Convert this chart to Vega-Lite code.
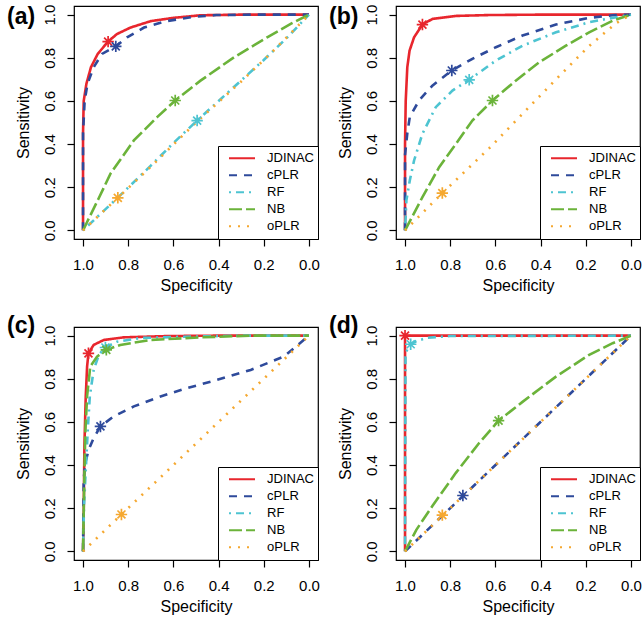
{
  "$schema": "https://vega.github.io/schema/vega-lite/v6.json",
  "padding": {"left": 6, "top": 3, "right": 0, "bottom": 0},
  "columns": 2,
  "spacing": {"row": 20, "column": 8},
  "datasets": {
    "curves": [
      {"panel":"a","method":"JDINAC","i":0,"spec":1,"sens":0},
      {"panel":"a","method":"JDINAC","i":1,"spec":1,"sens":0.45},
      {"panel":"a","method":"JDINAC","i":2,"spec":0.997,"sens":0.6},
      {"panel":"a","method":"JDINAC","i":3,"spec":0.985,"sens":0.68},
      {"panel":"a","method":"JDINAC","i":4,"spec":0.965,"sens":0.756},
      {"panel":"a","method":"JDINAC","i":5,"spec":0.935,"sens":0.818},
      {"panel":"a","method":"JDINAC","i":6,"spec":0.889,"sens":0.875},
      {"panel":"a","method":"JDINAC","i":7,"spec":0.85,"sens":0.91},
      {"panel":"a","method":"JDINAC","i":8,"spec":0.79,"sens":0.94},
      {"panel":"a","method":"JDINAC","i":9,"spec":0.7,"sens":0.97},
      {"panel":"a","method":"JDINAC","i":10,"spec":0.6,"sens":0.985},
      {"panel":"a","method":"JDINAC","i":11,"spec":0.48,"sens":0.997},
      {"panel":"a","method":"JDINAC","i":12,"spec":0.3,"sens":1},
      {"panel":"a","method":"JDINAC","i":13,"spec":0,"sens":1},
      {"panel":"a","method":"cPLR","i":0,"spec":1,"sens":0},
      {"panel":"a","method":"cPLR","i":1,"spec":1,"sens":0.45},
      {"panel":"a","method":"cPLR","i":2,"spec":0.993,"sens":0.6},
      {"panel":"a","method":"cPLR","i":3,"spec":0.98,"sens":0.68},
      {"panel":"a","method":"cPLR","i":4,"spec":0.953,"sens":0.756},
      {"panel":"a","method":"cPLR","i":5,"spec":0.916,"sens":0.818},
      {"panel":"a","method":"cPLR","i":6,"spec":0.855,"sens":0.853},
      {"panel":"a","method":"cPLR","i":7,"spec":0.805,"sens":0.895},
      {"panel":"a","method":"cPLR","i":8,"spec":0.73,"sens":0.94},
      {"panel":"a","method":"cPLR","i":9,"spec":0.63,"sens":0.97},
      {"panel":"a","method":"cPLR","i":10,"spec":0.51,"sens":0.99},
      {"panel":"a","method":"cPLR","i":11,"spec":0.41,"sens":0.998},
      {"panel":"a","method":"cPLR","i":12,"spec":0.25,"sens":1},
      {"panel":"a","method":"cPLR","i":13,"spec":0,"sens":1},
      {"panel":"a","method":"RF","i":0,"spec":1,"sens":0},
      {"panel":"a","method":"RF","i":1,"spec":0.85,"sens":0.148},
      {"panel":"a","method":"RF","i":2,"spec":0.7,"sens":0.3},
      {"panel":"a","method":"RF","i":3,"spec":0.6,"sens":0.405},
      {"panel":"a","method":"RF","i":4,"spec":0.495,"sens":0.509},
      {"panel":"a","method":"RF","i":5,"spec":0.4,"sens":0.6},
      {"panel":"a","method":"RF","i":6,"spec":0.3,"sens":0.695},
      {"panel":"a","method":"RF","i":7,"spec":0.2,"sens":0.79},
      {"panel":"a","method":"RF","i":8,"spec":0.1,"sens":0.89},
      {"panel":"a","method":"RF","i":9,"spec":0,"sens":1},
      {"panel":"a","method":"NB","i":0,"spec":1,"sens":0},
      {"panel":"a","method":"NB","i":1,"spec":0.982,"sens":0.039},
      {"panel":"a","method":"NB","i":2,"spec":0.93,"sens":0.15},
      {"panel":"a","method":"NB","i":3,"spec":0.879,"sens":0.262},
      {"panel":"a","method":"NB","i":4,"spec":0.775,"sens":0.417},
      {"panel":"a","method":"NB","i":5,"spec":0.672,"sens":0.525},
      {"panel":"a","method":"NB","i":6,"spec":0.592,"sens":0.602},
      {"panel":"a","method":"NB","i":7,"spec":0.48,"sens":0.694},
      {"panel":"a","method":"NB","i":8,"spec":0.332,"sens":0.802},
      {"panel":"a","method":"NB","i":9,"spec":0.185,"sens":0.895},
      {"panel":"a","method":"NB","i":10,"spec":0.081,"sens":0.957},
      {"panel":"a","method":"NB","i":11,"spec":0,"sens":1},
      {"panel":"a","method":"oPLR","i":0,"spec":1,"sens":0},
      {"panel":"a","method":"oPLR","i":1,"spec":0.846,"sens":0.151},
      {"panel":"a","method":"oPLR","i":2,"spec":0.7,"sens":0.295},
      {"panel":"a","method":"oPLR","i":3,"spec":0.5,"sens":0.5},
      {"panel":"a","method":"oPLR","i":4,"spec":0.3,"sens":0.69},
      {"panel":"a","method":"oPLR","i":5,"spec":0.15,"sens":0.84},
      {"panel":"a","method":"oPLR","i":6,"spec":0,"sens":1},

      {"panel":"b","method":"JDINAC","i":0,"spec":1,"sens":0},
      {"panel":"b","method":"JDINAC","i":1,"spec":1,"sens":0.4},
      {"panel":"b","method":"JDINAC","i":2,"spec":0.997,"sens":0.6},
      {"panel":"b","method":"JDINAC","i":3,"spec":0.99,"sens":0.756},
      {"panel":"b","method":"JDINAC","i":4,"spec":0.98,"sens":0.833},
      {"panel":"b","method":"JDINAC","i":5,"spec":0.96,"sens":0.895},
      {"panel":"b","method":"JDINAC","i":6,"spec":0.923,"sens":0.954},
      {"panel":"b","method":"JDINAC","i":7,"spec":0.879,"sens":0.98},
      {"panel":"b","method":"JDINAC","i":8,"spec":0.775,"sens":0.994},
      {"panel":"b","method":"JDINAC","i":9,"spec":0.63,"sens":0.998},
      {"panel":"b","method":"JDINAC","i":10,"spec":0.4,"sens":1},
      {"panel":"b","method":"JDINAC","i":11,"spec":0,"sens":1},
      {"panel":"b","method":"cPLR","i":0,"spec":1,"sens":0},
      {"panel":"b","method":"cPLR","i":1,"spec":1,"sens":0.35},
      {"panel":"b","method":"cPLR","i":2,"spec":0.99,"sens":0.45},
      {"panel":"b","method":"cPLR","i":3,"spec":0.979,"sens":0.525},
      {"panel":"b","method":"cPLR","i":4,"spec":0.938,"sens":0.602},
      {"panel":"b","method":"cPLR","i":5,"spec":0.879,"sens":0.671},
      {"panel":"b","method":"cPLR","i":6,"spec":0.793,"sens":0.741},
      {"panel":"b","method":"cPLR","i":7,"spec":0.702,"sens":0.795},
      {"panel":"b","method":"cPLR","i":8,"spec":0.598,"sens":0.849},
      {"panel":"b","method":"cPLR","i":9,"spec":0.48,"sens":0.903},
      {"panel":"b","method":"cPLR","i":10,"spec":0.332,"sens":0.954},
      {"panel":"b","method":"cPLR","i":11,"spec":0.185,"sens":0.985},
      {"panel":"b","method":"cPLR","i":12,"spec":0.081,"sens":0.997},
      {"panel":"b","method":"cPLR","i":13,"spec":0,"sens":1},
      {"panel":"b","method":"RF","i":0,"spec":1,"sens":0},
      {"panel":"b","method":"RF","i":1,"spec":0.994,"sens":0.139},
      {"panel":"b","method":"RF","i":2,"spec":0.979,"sens":0.231},
      {"panel":"b","method":"RF","i":3,"spec":0.96,"sens":0.324},
      {"panel":"b","method":"RF","i":4,"spec":0.923,"sens":0.448},
      {"panel":"b","method":"RF","i":5,"spec":0.864,"sens":0.571},
      {"panel":"b","method":"RF","i":6,"spec":0.79,"sens":0.648},
      {"panel":"b","method":"RF","i":7,"spec":0.716,"sens":0.698},
      {"panel":"b","method":"RF","i":8,"spec":0.598,"sens":0.787},
      {"panel":"b","method":"RF","i":9,"spec":0.48,"sens":0.856},
      {"panel":"b","method":"RF","i":10,"spec":0.332,"sens":0.918},
      {"panel":"b","method":"RF","i":11,"spec":0.185,"sens":0.965},
      {"panel":"b","method":"RF","i":12,"spec":0.066,"sens":0.988},
      {"panel":"b","method":"RF","i":13,"spec":0,"sens":1},
      {"panel":"b","method":"NB","i":0,"spec":1,"sens":0},
      {"panel":"b","method":"NB","i":1,"spec":0.923,"sens":0.154},
      {"panel":"b","method":"NB","i":2,"spec":0.849,"sens":0.293},
      {"panel":"b","method":"NB","i":3,"spec":0.775,"sens":0.401},
      {"panel":"b","method":"NB","i":4,"spec":0.702,"sens":0.509},
      {"panel":"b","method":"NB","i":5,"spec":0.613,"sens":0.602},
      {"panel":"b","method":"NB","i":6,"spec":0.51,"sens":0.694},
      {"panel":"b","method":"NB","i":7,"spec":0.406,"sens":0.779},
      {"panel":"b","method":"NB","i":8,"spec":0.288,"sens":0.856},
      {"panel":"b","method":"NB","i":9,"spec":0.185,"sens":0.918},
      {"panel":"b","method":"NB","i":10,"spec":0.081,"sens":0.972},
      {"panel":"b","method":"NB","i":11,"spec":0,"sens":1},
      {"panel":"b","method":"oPLR","i":0,"spec":1,"sens":0},
      {"panel":"b","method":"oPLR","i":1,"spec":0.835,"sens":0.173},
      {"panel":"b","method":"oPLR","i":2,"spec":0.628,"sens":0.38},
      {"panel":"b","method":"oPLR","i":3,"spec":0.48,"sens":0.54},
      {"panel":"b","method":"oPLR","i":4,"spec":0.332,"sens":0.7},
      {"panel":"b","method":"oPLR","i":5,"spec":0.185,"sens":0.855},
      {"panel":"b","method":"oPLR","i":6,"spec":0.066,"sens":0.96},
      {"panel":"b","method":"oPLR","i":7,"spec":0,"sens":1},

      {"panel":"c","method":"JDINAC","i":0,"spec":1,"sens":0},
      {"panel":"c","method":"JDINAC","i":1,"spec":0.997,"sens":0.179},
      {"panel":"c","method":"JDINAC","i":2,"spec":0.994,"sens":0.487},
      {"panel":"c","method":"JDINAC","i":3,"spec":0.988,"sens":0.718},
      {"panel":"c","method":"JDINAC","i":4,"spec":0.982,"sens":0.857},
      {"panel":"c","method":"JDINAC","i":5,"spec":0.976,"sens":0.918},
      {"panel":"c","method":"JDINAC","i":6,"spec":0.953,"sens":0.957},
      {"panel":"c","method":"JDINAC","i":7,"spec":0.908,"sens":0.98},
      {"panel":"c","method":"JDINAC","i":8,"spec":0.82,"sens":0.992},
      {"panel":"c","method":"JDINAC","i":9,"spec":0.628,"sens":0.998},
      {"panel":"c","method":"JDINAC","i":10,"spec":0.4,"sens":1},
      {"panel":"c","method":"JDINAC","i":11,"spec":0,"sens":1},
      {"panel":"c","method":"cPLR","i":0,"spec":1,"sens":0},
      {"panel":"c","method":"cPLR","i":1,"spec":0.997,"sens":0.333},
      {"panel":"c","method":"cPLR","i":2,"spec":0.99,"sens":0.41},
      {"panel":"c","method":"cPLR","i":3,"spec":0.975,"sens":0.471},
      {"panel":"c","method":"cPLR","i":4,"spec":0.953,"sens":0.525},
      {"panel":"c","method":"cPLR","i":5,"spec":0.923,"sens":0.579},
      {"panel":"c","method":"cPLR","i":6,"spec":0.864,"sens":0.626},
      {"panel":"c","method":"cPLR","i":7,"spec":0.775,"sens":0.672},
      {"panel":"c","method":"cPLR","i":8,"spec":0.657,"sens":0.718},
      {"panel":"c","method":"cPLR","i":9,"spec":0.539,"sens":0.757},
      {"panel":"c","method":"cPLR","i":10,"spec":0.406,"sens":0.795},
      {"panel":"c","method":"cPLR","i":11,"spec":0.258,"sens":0.841},
      {"panel":"c","method":"cPLR","i":12,"spec":0.111,"sens":0.903},
      {"panel":"c","method":"cPLR","i":13,"spec":0,"sens":1},
      {"panel":"c","method":"RF","i":0,"spec":1,"sens":0},
      {"panel":"c","method":"RF","i":1,"spec":0.996,"sens":0.2},
      {"panel":"c","method":"RF","i":2,"spec":0.99,"sens":0.333},
      {"panel":"c","method":"RF","i":3,"spec":0.979,"sens":0.564},
      {"panel":"c","method":"RF","i":4,"spec":0.97,"sens":0.718},
      {"panel":"c","method":"RF","i":5,"spec":0.953,"sens":0.841},
      {"panel":"c","method":"RF","i":6,"spec":0.93,"sens":0.911},
      {"panel":"c","method":"RF","i":7,"spec":0.901,"sens":0.945},
      {"panel":"c","method":"RF","i":8,"spec":0.849,"sens":0.972},
      {"panel":"c","method":"RF","i":9,"spec":0.746,"sens":0.989},
      {"panel":"c","method":"RF","i":10,"spec":0.554,"sens":0.995},
      {"panel":"c","method":"RF","i":11,"spec":0.3,"sens":1},
      {"panel":"c","method":"RF","i":12,"spec":0,"sens":1},
      {"panel":"c","method":"NB","i":0,"spec":1,"sens":0},
      {"panel":"c","method":"NB","i":1,"spec":0.995,"sens":0.3},
      {"panel":"c","method":"NB","i":2,"spec":0.99,"sens":0.55},
      {"panel":"c","method":"NB","i":3,"spec":0.982,"sens":0.72},
      {"panel":"c","method":"NB","i":4,"spec":0.968,"sens":0.857},
      {"panel":"c","method":"NB","i":5,"spec":0.938,"sens":0.903},
      {"panel":"c","method":"NB","i":6,"spec":0.897,"sens":0.934},
      {"panel":"c","method":"NB","i":7,"spec":0.835,"sens":0.957},
      {"panel":"c","method":"NB","i":8,"spec":0.702,"sens":0.98},
      {"panel":"c","method":"NB","i":9,"spec":0.48,"sens":0.992},
      {"panel":"c","method":"NB","i":10,"spec":0.25,"sens":1},
      {"panel":"c","method":"NB","i":11,"spec":0,"sens":1},
      {"panel":"c","method":"oPLR","i":0,"spec":1,"sens":0},
      {"panel":"c","method":"oPLR","i":1,"spec":0.83,"sens":0.171},
      {"panel":"c","method":"oPLR","i":2,"spec":0.6,"sens":0.4},
      {"panel":"c","method":"oPLR","i":3,"spec":0.4,"sens":0.6},
      {"panel":"c","method":"oPLR","i":4,"spec":0.2,"sens":0.8},
      {"panel":"c","method":"oPLR","i":5,"spec":0,"sens":1},

      {"panel":"d","method":"JDINAC","i":0,"spec":1,"sens":0},
      {"panel":"d","method":"JDINAC","i":1,"spec":1,"sens":1},
      {"panel":"d","method":"JDINAC","i":2,"spec":0,"sens":1},
      {"panel":"d","method":"cPLR","i":0,"spec":1,"sens":0},
      {"panel":"d","method":"cPLR","i":1,"spec":0.744,"sens":0.256},
      {"panel":"d","method":"cPLR","i":2,"spec":0.5,"sens":0.5},
      {"panel":"d","method":"cPLR","i":3,"spec":0,"sens":1},
      {"panel":"d","method":"RF","i":0,"spec":1,"sens":0},
      {"panel":"d","method":"RF","i":1,"spec":0.998,"sens":0.9},
      {"panel":"d","method":"RF","i":2,"spec":0.99,"sens":0.94},
      {"panel":"d","method":"RF","i":3,"spec":0.975,"sens":0.96},
      {"panel":"d","method":"RF","i":4,"spec":0.95,"sens":0.975},
      {"panel":"d","method":"RF","i":5,"spec":0.9,"sens":0.99},
      {"panel":"d","method":"RF","i":6,"spec":0.8,"sens":0.998},
      {"panel":"d","method":"RF","i":7,"spec":0,"sens":1},
      {"panel":"d","method":"NB","i":0,"spec":1,"sens":0},
      {"panel":"d","method":"NB","i":1,"spec":0.95,"sens":0.1},
      {"panel":"d","method":"NB","i":2,"spec":0.879,"sens":0.21},
      {"panel":"d","method":"NB","i":3,"spec":0.775,"sens":0.364},
      {"panel":"d","method":"NB","i":4,"spec":0.672,"sens":0.502},
      {"panel":"d","method":"NB","i":5,"spec":0.586,"sens":0.606},
      {"panel":"d","method":"NB","i":6,"spec":0.48,"sens":0.693},
      {"panel":"d","method":"NB","i":7,"spec":0.332,"sens":0.81},
      {"panel":"d","method":"NB","i":8,"spec":0.185,"sens":0.911},
      {"panel":"d","method":"NB","i":9,"spec":0.081,"sens":0.965},
      {"panel":"d","method":"NB","i":10,"spec":0,"sens":1},
      {"panel":"d","method":"oPLR","i":0,"spec":1,"sens":0},
      {"panel":"d","method":"oPLR","i":1,"spec":0.835,"sens":0.165},
      {"panel":"d","method":"oPLR","i":2,"spec":0.5,"sens":0.5},
      {"panel":"d","method":"oPLR","i":3,"spec":0,"sens":1}
    ],
    "stars": [
      {"panel":"a","method":"JDINAC","spec":0.889,"sens":0.875},
      {"panel":"a","method":"cPLR","spec":0.855,"sens":0.853},
      {"panel":"a","method":"RF","spec":0.495,"sens":0.509},
      {"panel":"a","method":"NB","spec":0.592,"sens":0.602},
      {"panel":"a","method":"oPLR","spec":0.846,"sens":0.151},
      {"panel":"b","method":"JDINAC","spec":0.923,"sens":0.954},
      {"panel":"b","method":"cPLR","spec":0.793,"sens":0.741},
      {"panel":"b","method":"RF","spec":0.716,"sens":0.698},
      {"panel":"b","method":"NB","spec":0.613,"sens":0.602},
      {"panel":"b","method":"oPLR","spec":0.835,"sens":0.173},
      {"panel":"c","method":"JDINAC","spec":0.976,"sens":0.918},
      {"panel":"c","method":"cPLR","spec":0.923,"sens":0.579},
      {"panel":"c","method":"RF","spec":0.901,"sens":0.945},
      {"panel":"c","method":"NB","spec":0.897,"sens":0.934},
      {"panel":"c","method":"oPLR","spec":0.83,"sens":0.171},
      {"panel":"d","method":"JDINAC","spec":1.0,"sens":1.0},
      {"panel":"d","method":"cPLR","spec":0.744,"sens":0.259},
      {"panel":"d","method":"RF","spec":0.975,"sens":0.96},
      {"panel":"d","method":"NB","spec":0.586,"sens":0.606},
      {"panel":"d","method":"oPLR","spec":0.835,"sens":0.168}
    ]
  },
  "config": {
    "font": "Liberation Sans",
    "view": {"stroke": "black", "strokeWidth": 1.2},
    "axis": {"grid": false, "domain": false, "tickColor": "black", "tickSize": 7, "tickWidth": 1.2, "labelFontSize": 15, "labelColor": "black", "labelFont": "Liberation Sans", "titleFont": "Liberation Sans", "titleFontSize": 16, "titleFontWeight": "normal", "titleColor": "black"},
    "axisX": {"labelPadding": 11, "titlePadding": 5, "labelFlush": false},
    "axisY": {"labelAngle": -90, "labelAlign": "center", "labelBaseline": "bottom", "labelPadding": 10, "titlePadding": 11, "labelFlush": false},
    "legend": {"orient": "bottom-right", "offset": 0, "strokeColor": "black", "fillColor": "white", "padding": 4, "symbolType": "stroke", "symbolSize": 676, "symbolStrokeWidth": 2, "symbolOffset": 6, "labelOffset": 11, "labelFontSize": 13, "labelColor": "black", "labelFont": "Liberation Sans", "clipHeight": 16.5, "rowPadding": 0},
    "title": {"fontSize": 23, "fontWeight": "bold", "anchor": "start", "frame": "bounds", "color": "black", "font": "Liberation Sans"}
  },
  "resolve": {"scale": {"color": "independent", "strokeDash": "independent", "stroke": "independent"}, "legend": {"color": "independent", "strokeDash": "independent"}},
  "concat": [
    {
      "title": {"text": "(a)", "dx": -8, "offset": -25},
      "width": 244, "height": 233,
      "layer": [
        {"data": {"name": "curves"}, "transform": [{"filter": "datum.panel == 'a'"}],
         "mark": {"type": "line", "strokeWidth": 2.6, "clip": true},
         "encoding": {
           "x": {"field": "spec", "type": "quantitative", "scale": {"domain": [-0.04, 1.04], "reverse": true, "nice": false, "zero": false}, "axis": {"values": [0, 0.2, 0.4, 0.6, 0.8, 1.0], "format": ".1f", "title": "Specificity"}},
           "y": {"field": "sens", "type": "quantitative", "scale": {"domain": [-0.04, 1.04], "nice": false, "zero": false}, "axis": {"values": [0, 0.2, 0.4, 0.6, 0.8, 1.0], "format": ".1f", "title": "Sensitivity"}},
           "color": {"field": "method", "type": "nominal", "scale": {"domain": ["JDINAC", "cPLR", "RF", "NB", "oPLR"], "range": ["#E8262D", "#2E4A9B", "#4DC4D1", "#6BB33A", "#F5A830"]}, "legend": {"title": null}},
           "strokeDash": {"field": "method", "type": "nominal", "scale": {"domain": ["JDINAC", "cPLR", "RF", "NB", "oPLR"], "range": [[1, 0], [8, 7], [2, 5, 8, 5], [13, 4], [2, 7]]}, "legend": {"title": null}},
           "order": {"field": "i", "type": "quantitative"}
         }},
        {"data": {"name": "stars"}, "transform": [{"filter": "datum.panel == 'a'"}],
         "mark": {"type": "point", "shape": "M-1,0L1,0M0,-1L0,1M-0.7,-0.7L0.7,0.7M-0.7,0.7L0.7,-0.7", "filled": false, "size": 130, "strokeWidth": 1.7, "opacity": 1},
         "encoding": {
           "x": {"field": "spec", "type": "quantitative"},
           "y": {"field": "sens", "type": "quantitative"},
           "stroke": {"field": "method", "type": "nominal", "scale": {"domain": ["JDINAC", "cPLR", "RF", "NB", "oPLR"], "range": ["#E8262D", "#2E4A9B", "#4DC4D1", "#6BB33A", "#F5A830"]}, "legend": null}
         }}
      ]
    },
    {
      "title": {"text": "(b)", "dx": -8, "offset": -25},
      "width": 244, "height": 233,
      "layer": [
        {"data": {"name": "curves"}, "transform": [{"filter": "datum.panel == 'b'"}],
         "mark": {"type": "line", "strokeWidth": 2.6, "clip": true},
         "encoding": {
           "x": {"field": "spec", "type": "quantitative", "scale": {"domain": [-0.04, 1.04], "reverse": true, "nice": false, "zero": false}, "axis": {"values": [0, 0.2, 0.4, 0.6, 0.8, 1.0], "format": ".1f", "title": "Specificity"}},
           "y": {"field": "sens", "type": "quantitative", "scale": {"domain": [-0.04, 1.04], "nice": false, "zero": false}, "axis": {"values": [0, 0.2, 0.4, 0.6, 0.8, 1.0], "format": ".1f", "title": "Sensitivity"}},
           "color": {"field": "method", "type": "nominal", "scale": {"domain": ["JDINAC", "cPLR", "RF", "NB", "oPLR"], "range": ["#E8262D", "#2E4A9B", "#4DC4D1", "#6BB33A", "#F5A830"]}, "legend": {"title": null}},
           "strokeDash": {"field": "method", "type": "nominal", "scale": {"domain": ["JDINAC", "cPLR", "RF", "NB", "oPLR"], "range": [[1, 0], [8, 7], [2, 5, 8, 5], [13, 4], [2, 7]]}, "legend": {"title": null}},
           "order": {"field": "i", "type": "quantitative"}
         }},
        {"data": {"name": "stars"}, "transform": [{"filter": "datum.panel == 'b'"}],
         "mark": {"type": "point", "shape": "M-1,0L1,0M0,-1L0,1M-0.7,-0.7L0.7,0.7M-0.7,0.7L0.7,-0.7", "filled": false, "size": 130, "strokeWidth": 1.7, "opacity": 1},
         "encoding": {
           "x": {"field": "spec", "type": "quantitative"},
           "y": {"field": "sens", "type": "quantitative"},
           "stroke": {"field": "method", "type": "nominal", "scale": {"domain": ["JDINAC", "cPLR", "RF", "NB", "oPLR"], "range": ["#E8262D", "#2E4A9B", "#4DC4D1", "#6BB33A", "#F5A830"]}, "legend": null}
         }}
      ]
    },
    {
      "title": {"text": "(c)", "dx": -8, "offset": -13},
      "width": 244, "height": 233,
      "layer": [
        {"data": {"name": "curves"}, "transform": [{"filter": "datum.panel == 'c'"}],
         "mark": {"type": "line", "strokeWidth": 2.6, "clip": true},
         "encoding": {
           "x": {"field": "spec", "type": "quantitative", "scale": {"domain": [-0.04, 1.04], "reverse": true, "nice": false, "zero": false}, "axis": {"values": [0, 0.2, 0.4, 0.6, 0.8, 1.0], "format": ".1f", "title": "Specificity"}},
           "y": {"field": "sens", "type": "quantitative", "scale": {"domain": [-0.04, 1.04], "nice": false, "zero": false}, "axis": {"values": [0, 0.2, 0.4, 0.6, 0.8, 1.0], "format": ".1f", "title": "Sensitivity"}},
           "color": {"field": "method", "type": "nominal", "scale": {"domain": ["JDINAC", "cPLR", "RF", "NB", "oPLR"], "range": ["#E8262D", "#2E4A9B", "#4DC4D1", "#6BB33A", "#F5A830"]}, "legend": {"title": null}},
           "strokeDash": {"field": "method", "type": "nominal", "scale": {"domain": ["JDINAC", "cPLR", "RF", "NB", "oPLR"], "range": [[1, 0], [8, 7], [2, 5, 8, 5], [13, 4], [2, 7]]}, "legend": {"title": null}},
           "order": {"field": "i", "type": "quantitative"}
         }},
        {"data": {"name": "stars"}, "transform": [{"filter": "datum.panel == 'c'"}],
         "mark": {"type": "point", "shape": "M-1,0L1,0M0,-1L0,1M-0.7,-0.7L0.7,0.7M-0.7,0.7L0.7,-0.7", "filled": false, "size": 130, "strokeWidth": 1.7, "opacity": 1},
         "encoding": {
           "x": {"field": "spec", "type": "quantitative"},
           "y": {"field": "sens", "type": "quantitative"},
           "stroke": {"field": "method", "type": "nominal", "scale": {"domain": ["JDINAC", "cPLR", "RF", "NB", "oPLR"], "range": ["#E8262D", "#2E4A9B", "#4DC4D1", "#6BB33A", "#F5A830"]}, "legend": null}
         }}
      ]
    },
    {
      "title": {"text": "(d)", "dx": -8, "offset": -13},
      "width": 244, "height": 233,
      "layer": [
        {"data": {"name": "curves"}, "transform": [{"filter": "datum.panel == 'd'"}],
         "mark": {"type": "line", "strokeWidth": 2.6, "clip": true},
         "encoding": {
           "x": {"field": "spec", "type": "quantitative", "scale": {"domain": [-0.04, 1.04], "reverse": true, "nice": false, "zero": false}, "axis": {"values": [0, 0.2, 0.4, 0.6, 0.8, 1.0], "format": ".1f", "title": "Specificity"}},
           "y": {"field": "sens", "type": "quantitative", "scale": {"domain": [-0.04, 1.04], "nice": false, "zero": false}, "axis": {"values": [0, 0.2, 0.4, 0.6, 0.8, 1.0], "format": ".1f", "title": "Sensitivity"}},
           "color": {"field": "method", "type": "nominal", "scale": {"domain": ["JDINAC", "cPLR", "RF", "NB", "oPLR"], "range": ["#E8262D", "#2E4A9B", "#4DC4D1", "#6BB33A", "#F5A830"]}, "legend": {"title": null}},
           "strokeDash": {"field": "method", "type": "nominal", "scale": {"domain": ["JDINAC", "cPLR", "RF", "NB", "oPLR"], "range": [[1, 0], [8, 7], [2, 5, 8, 5], [13, 4], [2, 7]]}, "legend": {"title": null}},
           "order": {"field": "i", "type": "quantitative"}
         }},
        {"data": {"name": "stars"}, "transform": [{"filter": "datum.panel == 'd'"}],
         "mark": {"type": "point", "shape": "M-1,0L1,0M0,-1L0,1M-0.7,-0.7L0.7,0.7M-0.7,0.7L0.7,-0.7", "filled": false, "size": 130, "strokeWidth": 1.7, "opacity": 1},
         "encoding": {
           "x": {"field": "spec", "type": "quantitative"},
           "y": {"field": "sens", "type": "quantitative"},
           "stroke": {"field": "method", "type": "nominal", "scale": {"domain": ["JDINAC", "cPLR", "RF", "NB", "oPLR"], "range": ["#E8262D", "#2E4A9B", "#4DC4D1", "#6BB33A", "#F5A830"]}, "legend": null}
         }}
      ]
    }
  ]
}
